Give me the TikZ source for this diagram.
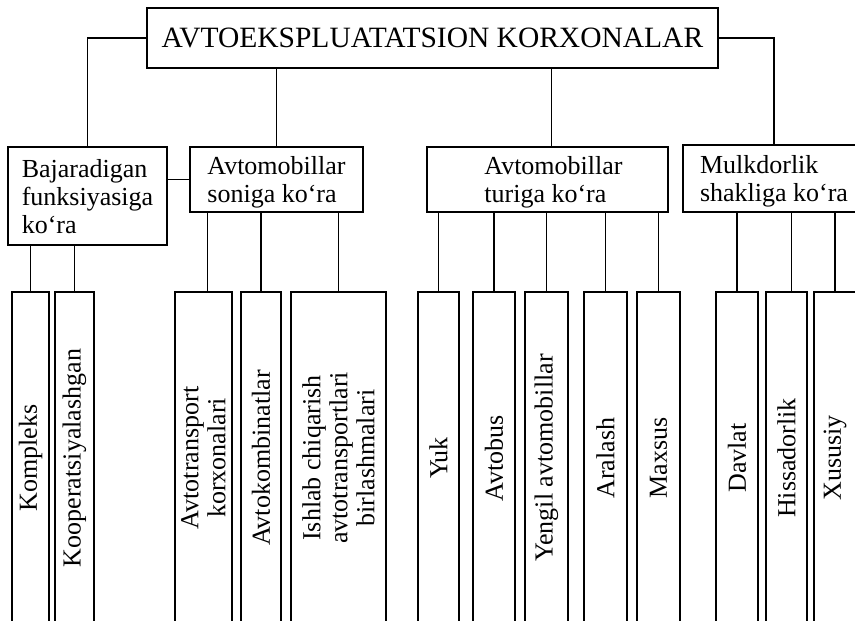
\documentclass[tikz,border=0pt]{standalone}
\usepackage{fontspec}
\setmainfont{Liberation Serif}
\begin{document}
\begin{tikzpicture}[x=1pt,y=-1pt, line width=1.9pt,
 cat/.style={draw, align=left, inner sep=0pt, font=\fontsize{26}{28}\selectfont, text depth=0pt},
 leaf/.style={draw, rotate=90, align=center, inner sep=0pt, minimum width=332pt, font=\fontsize{26}{27}\selectfont},
]
\useasboundingbox (0,0) rectangle (855,621);
\clip (0,0) rectangle (855,621);
\node[draw, minimum width=571pt, minimum height=60pt, inner sep=0pt, font=\fontsize{29.5}{31}\selectfont] (top) at (432.5,38) {AVTOEKSPLUATATSION KORXONALAR};
\node[cat, minimum width=159pt, minimum height=98pt] (baj) at (87.5,196) {Bajaradigan\\funksiyasiga\\ko‘ra};
\node[cat, minimum width=173pt, minimum height=65pt] (son) at (276.5,179.5) {Avtomobillar\\soniga ko‘ra};
\node[cat, minimum width=241pt, minimum height=65pt] (tur) at (547.5,179.5) {\hspace*{12pt}Avtomobillar\\\hspace*{12pt}turiga ko‘ra};
\node[cat, minimum width=182pt, minimum height=67pt] (mulk) at (774,178.5) {Mulkdorlik\\shakliga ko‘ra};
% leaves
\node[leaf, minimum height=37pt] (komp) at (30.5,458) {Kompleks};
\node[leaf, minimum height=39pt] (koop) at (74.5,458) {Kooperatsiyalashgan};
\node[leaf, minimum height=57pt] (avtr) at (203.5,458) {Avtotransport\\korxonalari};
\node[leaf, minimum height=40pt] (avkm) at (261,458) {Avtokombinatlar};
\node[leaf, minimum height=95pt] (ishl) at (338.5,458) {Ishlab chiqarish\\avtotransportlari\\birlashmalari};
\node[leaf, minimum height=41pt] (yuk) at (438.5,458) {Yuk};
\node[leaf, minimum height=42pt] (avtb) at (494,458) {Avtobus};
\node[leaf, minimum height=43pt] (yeng) at (546.5,458) {Yengil avtomobillar};
\node[leaf, minimum height=43pt] (aral) at (605.5,458) {Aralash};
\node[leaf, minimum height=43pt] (maxs) at (658.5,458) {Maxsus};
\node[leaf, minimum height=42pt] (davl) at (737,458) {Davlat};
\node[leaf, minimum height=41pt] (hiss) at (786.5,458) {Hissadorlik};
\node[leaf, minimum height=42pt] (xus) at (835,458) {Xususiy};
% connectors
\draw (top.west) -| (baj.north);
\draw (top.east) -| (mulk.north);
\draw (son.north) -- (son.north |- top.south);
\draw ([xshift=4pt]tur.north) -- ([xshift=4pt]tur.north |- top.south);
\draw (son.west) -- (son.west -| baj.east);
\foreach \c in {komp,koop} \draw (\c.east) -- (\c.east |- baj.south);
\draw ([xshift=4pt]avtr.east) -- ([xshift=4pt]avtr.east |- son.south);
\foreach \c in {avkm,ishl} \draw (\c.east) -- (\c.east |- son.south);
\foreach \c in {yuk,avtb,yeng,aral,maxs} \draw (\c.east) -- (\c.east |- tur.south);
\draw ([xshift=5pt]hiss.east) -- ([xshift=5pt]hiss.east |- mulk.south);
\foreach \c in {davl,xus} \draw (\c.east) -- (\c.east |- mulk.south);
\end{tikzpicture}
\end{document}
